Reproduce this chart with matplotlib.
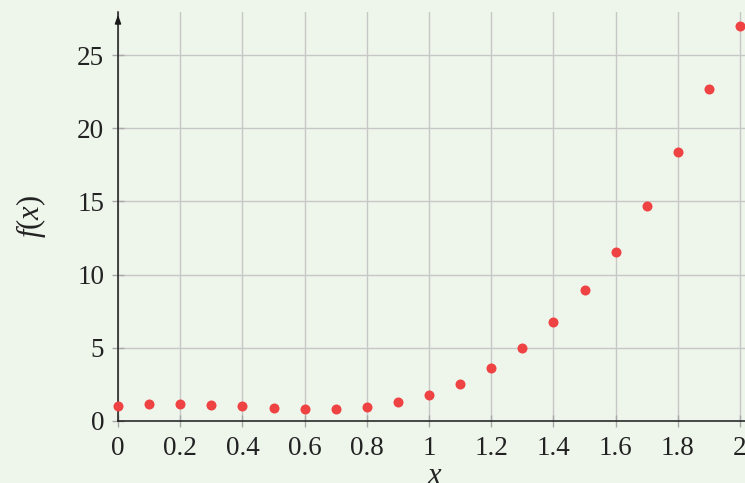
import numpy as np
import matplotlib
matplotlib.use('Agg')
import matplotlib.pyplot as plt

# 数据
x_vals = [0.0, 0.1, 0.2, 0.3, 0.4, 0.5, 0.6, 0.7, 0.8, 0.9, 1.0,
          1.1, 1.2, 1.3, 1.4, 1.5, 1.6, 1.7, 1.8, 1.9, 2.0]
f_vals = [1.02, 1.16, 1.16, 1.11, 1.0, 0.87, 0.80, 0.82, 0.98, 1.28, 1.80,
          2.55, 3.62, 4.99, 6.76, 8.93, 11.57, 14.7, 18.4, 22.66, 26.98]
x_ticks = [0, 0.2, 0.4, 0.6, 0.8, 1, 1.2, 1.4, 1.6, 1.8, 2]
x_ticklabels = ['0', '0.2', '0.4', '0.6', '0.8', '1', '1.2', '1.4', '1.6', '1.8', '2']
y_ticks = [0, 5, 10, 15, 20, 25]

bg = '#eef6ec'
plt.rcParams['font.family'] = ['Liberation Serif', 'DejaVu Serif']
plt.rcParams['mathtext.fontset'] = 'custom'
plt.rcParams['mathtext.rm'] = 'Liberation Serif'
plt.rcParams['mathtext.it'] = 'Liberation Serif:italic'

fig = plt.figure(figsize=(7.45, 4.83), dpi=100, facecolor=bg)
ax = fig.add_axes([118/745, 62/483, 627/745, 409/483])
ax.set_facecolor(bg)

ax.scatter(x_vals, f_vals, s=52, color='#ef4242', zorder=3, clip_on=False, linewidths=0)

ax.set_xlim(0, 2.016)
ax.set_ylim(0, 27.94)
ax.set_xticks(x_ticks)
ax.set_xticklabels(x_ticklabels)
ax.set_yticks(y_ticks)
ax.grid(True, color='#c6c8c6', linewidth=1.0)
ax.set_axisbelow(True)

for s in ['top', 'right']:
    ax.spines[s].set_visible(False)
for s in ['left', 'bottom']:
    ax.spines[s].set_color('#1a1a1a')
    ax.spines[s].set_linewidth(1.1)

ax.tick_params(axis='both', direction='inout', length=8, width=1, color='#a8a8a8',
               labelsize=19.5, labelcolor='#222222')
ax.tick_params(axis='x', pad=7)
ax.tick_params(axis='y', pad=6)

# y轴箭头
ax.annotate('', xy=(0, 1.0), xytext=(0, 0.97), xycoords='axes fraction',
            arrowprops=dict(arrowstyle='-|>,head_length=0.5,head_width=0.18',
                            color='#1a1a1a', lw=1.1))

ax.set_xlabel(r'$x$', fontsize=22, color='#222222')
ax.xaxis.set_label_coords(0.505, -0.135)
ax.xaxis.label.set_va('center')
ax.set_ylabel(r'$f(x)$', fontsize=22, color='#222222', labelpad=21)

fig.savefig('out.png', dpi=100, facecolor=bg)
